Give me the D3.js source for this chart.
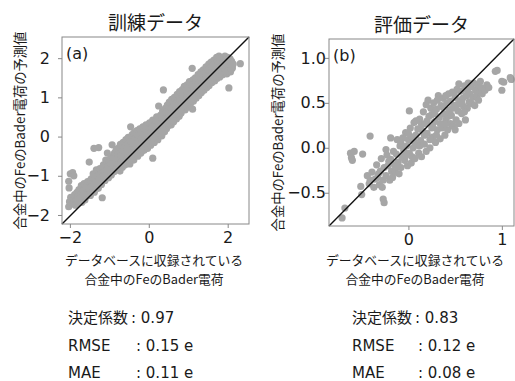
<!DOCTYPE html>
<html>
<head>
<meta charset="utf-8">
<script src="https://cdn.jsdelivr.net/npm/d3@7"></script>
<style>
  body { margin: 0; background: #fff; }
  svg text { font-family: "DejaVu Sans", sans-serif; fill: #1a1a1a; }
  svg text.jp { font-family: "Noto Sans CJK JP", sans-serif; }
  svg text.stat { font-family: "DejaVu Sans", "Noto Sans CJK JP", sans-serif; }
</style>
</head>
<body>
<div id="chart"></div>
<script>
// reference charge (x) vs predicted charge (y)
var trainPoints = [
  [-2.03,-1.79],[-2.01,-1.66],[-1.98,-1.55],[-2.02,-1.31],[-2.03,-1.14],[-1.99,-0.95],[-1.93,-0.92],[-1.9,-1.0],
  [-1.94,-1.72],[-1.91,-1.6],[-1.88,-1.48],[-1.86,-1.75],[-1.84,-1.62],[-1.82,-1.42],[-1.8,-1.53],[-1.79,-1.7],
  [-1.77,-1.35],[-1.75,-1.6],[-1.73,-1.47],[-1.71,-1.25],[-1.7,-1.68],[-1.68,-1.55],[-1.66,-1.38],[-1.64,-1.2],
  [-1.62,-1.62],[-1.6,-1.45],[-1.58,-1.3],[-1.57,-1.52],[-1.55,-1.15],[-1.53,-1.4],[-1.51,-0.65],[-1.5,-1.25],
  [-1.48,-1.5],[-1.46,-1.08],[-1.45,-1.35],[-1.43,-1.2],[-1.41,-0.95],[-1.39,-0.3],[-1.38,-1.42],[-1.36,-1.1],
  [-1.34,-1.28],[-1.33,-0.85],[-1.3,-1.0],[-1.28,-1.32],[-1.27,-0.28],[-1.26,-1.15],[-1.24,-0.82],[-1.22,-0.95],
  [-1.2,-1.22],[-1.18,-1.56],[-1.17,-1.05],[-1.15,-0.72],[-1.13,-0.88],[-1.11,-1.12],[-1.09,-0.6],[-1.07,-0.95],
  [-1.05,-0.42],[-1.04,-0.78],[-1.02,-1.05],[-1.0,-0.65],[-0.98,-0.88],[-0.96,-0.52],[-0.95,-0.98],[-0.93,-0.21],
  [-0.92,-0.75],[-0.9,-0.55],[-0.88,-0.9],[-0.87,-0.42],[-0.85,-0.68],[-0.83,-0.35],[-0.82,-0.82],[-0.8,-0.55],
  [-0.78,-0.3],[-0.77,-0.72],[-0.75,-0.45],[-0.73,-0.88],[-0.72,-0.2],[-0.7,-0.6],[-0.68,-0.38],[-0.67,-0.78],
  [-0.65,-0.15],[-0.63,-0.52],[-0.62,-0.28],[-0.6,-0.72],[-0.58,-0.08],[-0.57,-0.45],[-0.55,-0.62],[-0.53,-0.2],
  [-0.52,-0.02],[-0.5,-0.38],[-0.48,-0.7],[-0.46,0.25],[-0.45,-0.12],[-0.43,-0.52],[-0.42,0.05],[-0.4,-0.3],
  [-0.38,-0.6],[-0.37,0.1],[-0.35,-0.05],[-0.33,-0.42],[-0.32,-0.18],[-0.3,0.15],[-0.28,-0.5],[-0.27,0.02],
  [-0.25,-0.3],[-0.23,0.2],[-0.22,-0.12],[-0.2,-0.42],[-0.18,0.08],[-0.17,-0.25],[-0.15,0.25],[-0.13,-0.05],
  [-0.12,-0.35],[-0.1,0.15],[-0.08,-0.18],[-0.07,0.3],[-0.05,0.0],[-0.03,-0.3],[-0.02,0.2],[0.0,-0.12],
  [0.02,0.35],[0.03,0.08],[0.05,-0.22],[0.07,0.25],[0.08,-0.05],[0.1,0.42],[0.12,0.12],[0.1,-0.55],
  [0.14,-0.15],[0.16,0.3],[0.18,0.02],[0.2,0.5],[0.21,0.18],[0.23,-0.08],[0.25,0.78],[0.26,0.38],
  [0.28,0.08],[0.3,0.55],[0.31,0.22],[0.33,0.02],[0.35,0.65],[0.37,1.19],[0.38,0.35],[0.4,0.12],
  [0.42,0.72],[0.43,0.48],[0.45,0.2],[0.47,0.8],[0.48,0.58],[0.5,0.28],[0.52,0.88],[0.53,0.45],
  [0.55,0.65],[0.57,0.3],[0.58,0.95],[0.6,0.52],[0.62,0.78],[0.63,0.38],[0.65,1.0],[0.67,0.62],
  [0.68,0.85],[0.7,0.45],[0.72,1.08],[0.73,0.7],[0.75,0.92],[0.77,0.52],[0.78,1.15],[0.8,0.8],
  [0.82,0.6],[0.83,1.0],[0.85,1.2],[0.87,0.72],[0.88,0.9],[0.9,1.28],[0.92,0.68],[0.93,1.08],
  [0.95,0.85],[0.97,1.32],[0.98,0.75],[1.0,1.15],[1.02,0.95],[1.03,1.4],[1.05,0.82],[1.07,1.22],
  [1.08,1.02],[1.1,1.74],[1.11,0.7],[1.12,1.45],[1.13,0.9],[1.15,1.3],[1.17,1.1],[1.18,1.5],
  [1.2,0.98],[1.22,1.38],[1.23,1.18],[1.25,1.58],[1.27,1.05],[1.28,1.45],[1.3,1.25],[1.32,1.65],
  [1.33,1.12],[1.35,1.52],[1.37,1.32],[1.38,1.7],[1.4,1.18],[1.42,1.58],[1.43,1.4],[1.45,1.78],
  [1.47,1.25],[1.48,1.62],[1.5,1.45],[1.52,1.85],[1.53,1.3],[1.55,1.7],[1.57,1.52],[1.58,1.9],
  [1.6,1.38],[1.62,1.75],[1.63,1.58],[1.65,1.95],[1.67,1.42],[1.68,1.8],[1.7,1.62],[1.72,2.02],
  [1.73,1.48],[1.75,1.85],[1.77,1.68],[1.78,2.05],[1.8,1.52],[1.82,1.9],[1.83,1.72],[1.85,2.0],
  [1.87,1.58],[1.88,1.82],[1.9,1.95],[1.92,1.65],[1.93,2.05],[1.95,1.78],[1.97,1.9],[1.98,1.6],
  [2.0,2.02],[2.02,1.72],[2.03,1.24],[2.04,1.88],[2.06,1.98],[2.07,1.65],[2.08,1.8],[2.1,1.92],
  [2.12,1.75],[2.14,1.85],[2.32,1.86],
  [0.04,0.18],[0.15,0.05],[0.19,0.38],[0.27,0.25],[0.34,0.45],[0.36,0.15],[0.44,0.62],[0.46,0.35],
  [0.51,0.6],[0.56,0.5],[0.59,0.72],[0.61,0.4],[0.66,0.82],[0.69,0.58],[0.74,0.8],[0.76,0.64],
  [0.79,0.95],[0.81,0.72],[0.84,0.85],[0.86,1.05],[0.89,0.8],[0.91,0.95],[0.94,1.18],[0.96,0.98],
  [0.99,0.88],[1.01,1.25],[1.04,1.08],[1.06,0.92],[1.09,1.32],[1.14,1.2],[1.16,1.02],[1.19,1.4],
  [1.21,1.15],[1.24,1.3],[1.26,1.48],[1.29,1.12],[1.31,1.42],[1.34,1.28],[1.36,1.58],[1.39,1.45],
  [1.41,1.3],[1.44,1.65],[1.46,1.5],[1.49,1.36],[1.51,1.72],[1.54,1.55],[1.56,1.42],[1.59,1.78],
  [1.61,1.62],[1.64,1.5],[1.66,1.85],[1.69,1.7],[1.71,1.55],[1.74,1.92],[1.76,1.75],[1.79,1.6],
  [1.81,1.98],[1.84,1.8],[1.86,1.66],[1.89,1.9],[1.91,1.75],[1.94,1.7],[1.96,1.96],[1.99,1.85],
  [2.01,1.68],[2.05,1.92],[2.09,1.72],[2.11,1.85],[-0.97,-0.7],[-0.86,-0.55],[-0.79,-0.45],[-0.71,-0.48],
  [-0.64,-0.35],[-0.56,-0.32],[-0.49,-0.55],[-0.41,-0.18],[-0.34,-0.3],[-0.26,-0.15],[-0.19,-0.05],[-0.11,0.05],
  [-0.04,0.1],[-0.06,-0.15],[0.01,0.0],[0.06,0.1],[0.09,0.25],[0.11,-0.02],[-1.52,-1.32],[-1.44,-1.28],
  [-1.35,-1.2],[-1.25,-1.05],[-1.14,-1.0],[-1.06,-0.85],[-1.72,-1.55],[-1.65,-1.48],[-1.78,-1.6]
];

var testPoints = [
  // isolated points
  [-0.71,-0.78],[-0.68,-0.67],[-0.62,-0.06],[-0.58,-0.04],[-0.61,-0.11],[-0.6,-0.14],[-0.49,-0.07],[-0.41,0.13],
  [-0.19,0.11],[-0.51,-0.43],[-0.5,-0.52],[-0.27,-0.57],[-0.26,-0.61],
  // main cloud
  [-0.44,-0.31],[-0.42,-0.4],[-0.39,-0.27],[-0.37,-0.44],[-0.36,-0.35],[-0.41,-0.36],
  [-0.34,-0.19],[-0.33,-0.33],[-0.31,-0.41],[-0.3,-0.26],[-0.29,-0.12],[-0.27,-0.36],[-0.26,-0.22],[-0.32,-0.29],[-0.28,-0.44],
  [-0.24,-0.31],[-0.23,-0.08],[-0.22,-0.2],[-0.2,-0.36],[-0.19,-0.13],[-0.18,-0.26],[-0.16,-0.04],[-0.17,-0.33],[-0.21,-0.15],[-0.15,-0.19],[-0.24,-0.02],
  [-0.14,-0.27],[-0.13,-0.07],[-0.12,0.09],[-0.11,-0.16],[-0.1,-0.29],[-0.09,0.02],[-0.08,-0.22],[-0.07,-0.1],[-0.06,0.11],[-0.05,-0.03],[-0.12,-0.21],[-0.08,0.05],
  [-0.04,-0.14],[-0.03,0.17],[-0.02,0.02],[-0.01,-0.2],[0.0,0.09],[0.01,-0.06],[0.02,0.22],[0.03,-0.17],[0.04,0.12],[0.05,0.0],[-0.03,-0.09],[0.01,0.41],[0.0,0.16],[0.04,-0.1],
  [0.06,0.28],[0.07,-0.12],[0.08,0.14],[0.09,0.03],[0.1,0.21],[0.11,-0.06],[0.12,0.32],[0.13,0.08],[0.14,-0.1],[0.15,0.19],[0.08,0.3],[0.12,0.02],[0.06,0.07],[0.14,0.26],
  [0.16,0.4],[0.17,0.04],[0.18,0.27],[0.19,-0.04],[0.2,0.16],[0.21,0.53],[0.22,0.35],[0.23,0.09],[0.24,0.44],[0.25,0.22],[0.17,0.14],[0.2,0.3],[0.23,0.0],[0.19,0.48],[0.25,0.37],
  [0.26,0.12],[0.27,0.5],[0.28,0.29],[0.29,0.06],[0.3,0.43],[0.31,0.2],[0.32,0.58],[0.33,0.34],[0.34,0.1],[0.35,0.47],[0.28,0.38],[0.31,0.53],[0.26,0.23],[0.34,0.27],[0.3,0.14],
  [0.36,0.22],[0.37,0.55],[0.38,0.38],[0.39,0.14],[0.4,0.31],[0.41,0.5],[0.42,0.2],[0.43,0.6],[0.44,0.42],[0.45,0.27],[0.37,0.45],[0.4,0.58],[0.43,0.35],[0.39,0.26],[0.45,0.52],
  [0.46,0.36],[0.47,0.62],[0.48,0.24],[0.49,0.47],[0.5,0.56],[0.51,0.31],[0.52,0.65],[0.53,0.41],[0.54,0.27],[0.54,0.71],[0.55,0.52],[0.47,0.44],[0.5,0.2],[0.52,0.48],[0.49,0.6],
  [0.56,0.63],[0.57,0.38],[0.58,0.55],[0.59,0.46],[0.6,0.69],[0.61,0.31],[0.62,0.58],[0.63,0.44],[0.64,0.72],[0.65,0.51],[0.57,0.5],[0.6,0.4],[0.63,0.64],
  [0.66,0.6],[0.67,0.68],[0.68,0.49],[0.69,0.56],[0.7,0.72],[0.71,0.47],[0.72,0.64],[0.73,0.58],[0.74,0.7],[0.76,0.62],[0.77,0.74],[0.78,0.67],[0.79,0.6],[0.75,0.53],
  [0.82,0.64],[0.84,0.7],[0.86,0.67],[0.93,0.85],[0.95,0.86],[1.0,0.74],[1.02,0.73],[1.0,0.64],[1.09,0.78],[1.1,0.76]
];

var titles = ["訓練データ", "評価データ"];
var panelTags = ["(a)", "(b)"];
var xLabelLines = ["データベースに収録されている", "合金中のFeのBader電荷"];
var yLabel = "合金中のFeのBader電荷の予測値";
var trainXTicks = [-2, 0, 2];
var trainYTicks = [-2, -1, 0, 1, 2];
var testXTicks = [0, 1];
var testYTicks = [-0.5, 0.0, 0.5, 1.0];
var statNames = ["決定係数", "RMSE", "MAE"];
var statUnits = ["", " e", " e"];
var trainStats = [0.97, 0.15, 0.11];
var testStats = [0.83, 0.12, 0.08];

var svgWidth = 515, svgHeight = 381;
var dotColor = "#a6a6a6";

var svg = d3.select("#chart")
  .append("svg")
  .attr("width", svgWidth)
  .attr("height", svgHeight);

// panel geometry in pixels, domains from the axes
var panels = [
  {left: 62, right: 249, top: 37, bottom: 224, xDom: [-2.2, 2.54], yDom: [-2.23, 2.54],
   data: trainPoints, xTicks: trainXTicks, yTicks: trainYTicks, xFmt: d3.format("d"), yFmt: d3.format("d"),
   yLabX: 20, xLabCx: 154, titleY: 30, yTickX: -12, stats: trainStats, statX: 68, colonX: [131, 136]},
  {left: 329, right: 514, top: 39, bottom: 226, xDom: [-0.85, 1.13], yDom: [-0.87, 1.21],
   data: testPoints, xTicks: testXTicks, yTicks: testYTicks, xFmt: d3.format("d"), yFmt: d3.format(".1f"),
   yLabX: 278, xLabCx: 415, titleY: 32, yTickX: -3, stats: testStats, statX: 352, colonX: [415, 418]}
];

panels.forEach(function(p, i) {
  var x = d3.scaleLinear().domain(p.xDom).range([p.left, p.right]);
  var y = d3.scaleLinear().domain(p.yDom).range([p.bottom, p.top]);

  var g = svg.append("g");

  // scatter
  g.selectAll(".dot")
    .data(p.data)
    .enter().append("circle")
      .attr("class", "dot")
      .attr("cx", function(d) { return x(d[0]); })
      .attr("cy", function(d) { return y(d[1]); })
      .attr("r", 3.6)
      .attr("fill", dotColor);

  // diagonal reference line, corner to corner
  g.append("line")
    .attr("x1", x(p.xDom[0])).attr("y1", y(p.yDom[0]))
    .attr("x2", x(p.xDom[1])).attr("y2", y(p.yDom[1]))
    .attr("stroke", "#111")
    .attr("stroke-width", 1.4);

  // frame
  g.append("rect")
    .attr("x", p.left).attr("y", p.top)
    .attr("width", p.right - p.left).attr("height", p.bottom - p.top)
    .attr("fill", "none")
    .attr("stroke", "#888")
    .attr("stroke-width", 1);

  var xAxis = g.append("g")
    .attr("transform", "translate(0," + p.bottom + ")")
    .call(d3.axisBottom(x).tickValues(p.xTicks).tickFormat(p.xFmt).tickSize(4).tickPadding(4));
  var yAxis = g.append("g")
    .attr("transform", "translate(" + p.left + ",0)")
    .call(d3.axisLeft(y).tickValues(p.yTicks).tickFormat(p.yFmt).tickSize(4));

  [xAxis, yAxis].forEach(function(a) {
    a.select(".domain").remove();
    a.selectAll(".tick line").attr("stroke", "#888");
    a.selectAll(".tick text")
      .attr("fill", "#1a1a1a")
      .style("font-family", "DejaVu Sans")
      .style("font-size", "16px");
  });
  yAxis.selectAll(".tick text").attr("x", p.yTickX);

  // panel tag
  g.append("text")
    .attr("x", p.left + 4).attr("y", p.top + 22)
    .style("font-size", "16px")
    .text(panelTags[i]);

  // title
  g.append("text")
    .attr("class", "jp")
    .attr("x", (p.left + p.right) / 2).attr("y", p.titleY)
    .attr("text-anchor", "middle")
    .style("font-size", "19px")
    .text(titles[i]);

  // y label
  g.append("text")
    .attr("class", "jp")
    .attr("transform", "translate(" + p.yLabX + "," + ((p.top + p.bottom) / 2) + ") rotate(-90)")
    .attr("text-anchor", "middle")
    .attr("dy", "0.35em")
    .style("font-size", "13.3px")
    .text(yLabel);

  // x label, two lines
  g.selectAll(".xlab")
    .data(xLabelLines)
    .enter().append("text")
      .attr("class", "jp")
      .attr("x", p.xLabCx)
      .attr("y", function(d, k) { return 265 + k * 18.5; })
      .attr("text-anchor", "middle")
      .style("font-size", "12.8px")
      .text(function(d) { return d; });

  // metrics block
  var rowY = [323, 351, 378];
  statNames.forEach(function(name, k) {
    g.append("text")
      .attr("class", "stat")
      .attr("x", p.statX).attr("y", rowY[k])
      .style("font-size", "15px")
      .text(name);
    g.append("text")
      .attr("class", "stat")
      .attr("x", k === 0 ? p.colonX[0] : p.colonX[1]).attr("y", rowY[k])
      .style("font-size", "15px")
      .text(": " + p.stats[k].toFixed(2) + statUnits[k]);
  });
});
</script>
</body>
</html>
